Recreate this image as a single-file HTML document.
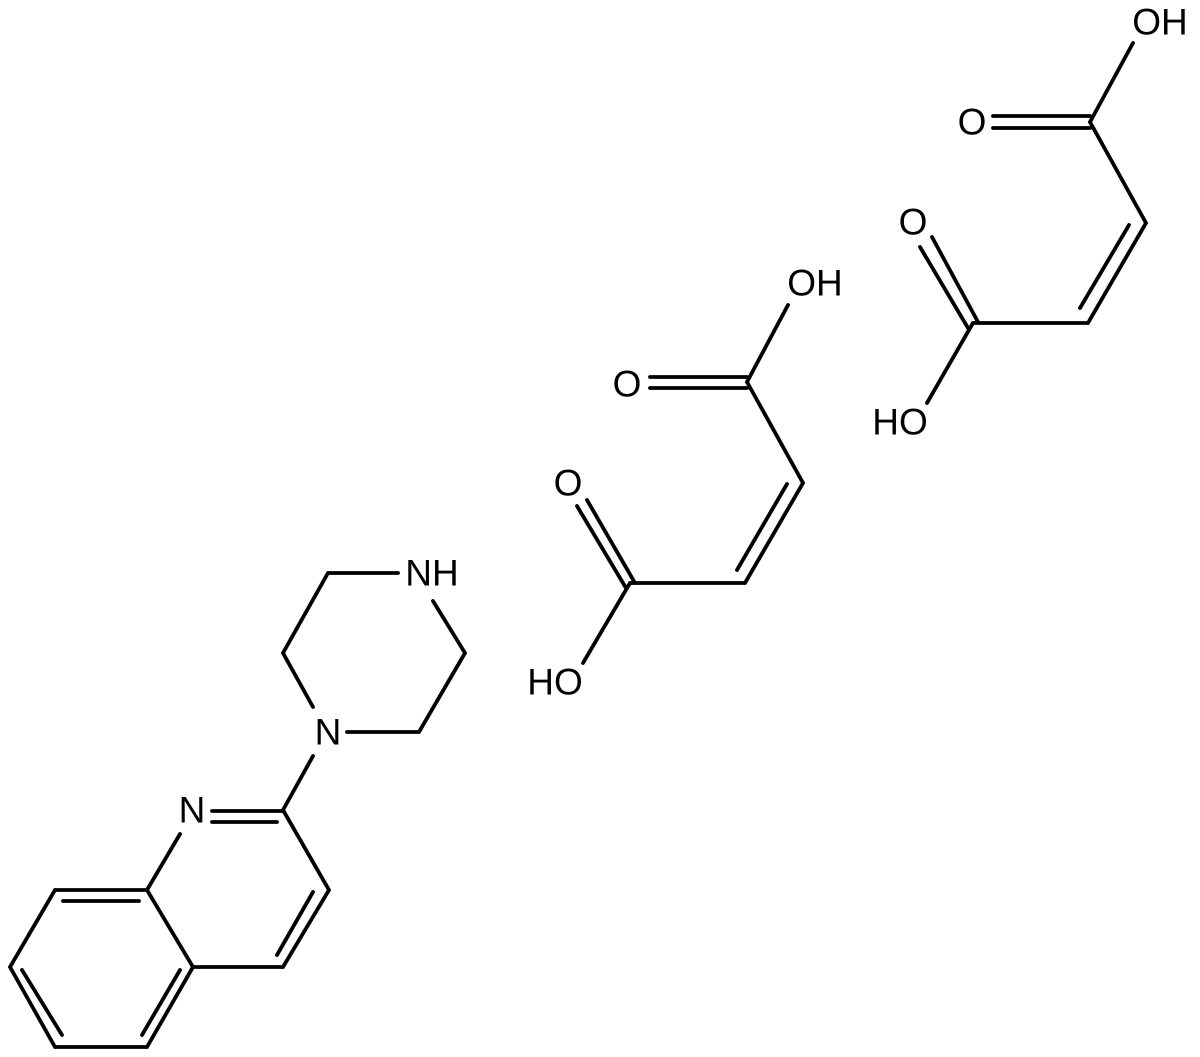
<!DOCTYPE html>
<html><head><meta charset="utf-8"><style>html,body{margin:0;padding:0;background:#fff}svg{display:block}</style></head>
<body>
<svg width="1200" height="1057" viewBox="0 0 1200 1057" xmlns="http://www.w3.org/2000/svg">
<g stroke="#000" stroke-width="3.8" stroke-linecap="round" fill="none">
<polyline points="55,890 147,890 193,967 147,1047 55,1047 10,967 55,890"/>
<line x1="63" y1="901" x2="139" y2="901"/>
<line x1="22" y1="970" x2="62" y2="1035"/>
<line x1="180" y1="970" x2="142" y2="1035"/>
<line x1="147" y1="890" x2="180" y2="834"/>
<line x1="212" y1="811" x2="283" y2="811"/>
<line x1="212" y1="822" x2="277" y2="822"/>
<polyline points="283,810 329,890 283,967 193,967"/>
<line x1="313" y1="892" x2="277" y2="955"/>
<line x1="283" y1="810" x2="313" y2="756"/>
<polyline points="313,707 283,653 328,573 398,573"/>
<polyline points="433,601 465,653 419,732 347,732"/>
<line x1="630" y1="583" x2="583" y2="663"/>
<line x1="587" y1="500" x2="635" y2="583"/>
<line x1="577" y1="506" x2="626" y2="588"/>
<polyline points="630,583 745,583 803,483 747,382"/>
<line x1="737" y1="570" x2="787" y2="484"/>
<line x1="747" y1="377" x2="650" y2="377"/>
<line x1="747" y1="388" x2="650" y2="388"/>
<line x1="747" y1="382" x2="788" y2="305"/>
<line x1="973" y1="323" x2="927" y2="403"/>
<line x1="932" y1="237" x2="978" y2="322"/>
<line x1="920" y1="247" x2="968" y2="328"/>
<polyline points="973,323 1088,323 1146,223 1090,122"/>
<line x1="1080" y1="308" x2="1129" y2="225"/>
<line x1="1090" y1="116" x2="993" y2="116"/>
<line x1="1090" y1="128" x2="993" y2="128"/>
<line x1="1090" y1="122" x2="1133" y2="43"/>
</g>
<g font-family="Liberation Sans, Arial, sans-serif" font-size="37" fill="#000" text-anchor="middle" dominant-baseline="central">
<text x="192" y="810">N</text>
<text x="328" y="732">N</text>
<text x="432" y="573">NH</text>
<text x="555" y="682">HO</text>
<text x="568" y="483">O</text>
<text x="627" y="384">O</text>
<text x="815" y="283">OH</text>
<text x="900" y="422">HO</text>
<text x="913" y="222">O</text>
<text x="972" y="122">O</text>
<text x="1160" y="22">OH</text>
</g>
</svg>
</body></html>
